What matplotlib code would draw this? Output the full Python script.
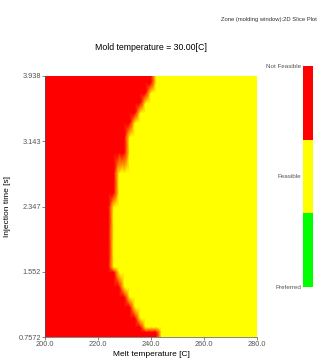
#!/usr/bin/env python3

import numpy as np
import matplotlib
matplotlib.use('Agg')
import matplotlib.pyplot as plt
from matplotlib.colors import LinearSegmentedColormap, ListedColormap

plt.rcParams['font.family'] = ['Liberation Sans', 'DejaVu Sans']

# injection time rows [s] and the melt temperature where the zone turns feasible [C]
inj_time = [3.938, 3.849, 3.727, 3.605, 3.483, 3.362, 3.191, 2.996, 2.752,
            2.508, 2.338, 2.021, 1.607, 1.545, 1.363, 1.241, 1.119, 0.985,
            0.875, 0.814, 0.7572]
boundary_temp = [241.5, 240.3, 238.4, 237.1, 235.8, 234.0, 232.0, 230.2, 227.7,
                 226.4, 225.2, 225.2, 225.2, 227.7, 229.5, 231.4, 234.0, 235.8,
                 237.7, 242.1, 244.0]
melt_temp = np.arange(200.0, 281.0, 2.0)

x_ticks = [200.0, 220.0, 240.0, 260.0, 280.0]
y_ticks = [0.7572, 1.552, 2.347, 3.143, 3.938]
y_tick_labels = ['0.7572', '1.552', '2.347', '3.143', '3.938']
zone_labels = ['Preferred', 'Feasible', 'Not Feasible']

RED = '#ff0000'
YELLOW = '#ffff00'
GREEN = '#00ff00'
GREY = '#555555'

t = np.array(inj_time)
b = np.array(boundary_temp)
X, Y = np.meshgrid(melt_temp, t)
Z = (X < b[:, None]).astype(float)  # 1 = not feasible, 0 = feasible

fig = plt.figure(figsize=(3.2, 3.6), dpi=100)
ax = fig.add_axes([45 / 320, 23 / 360, 212 / 320, 261 / 360])
cmap = LinearSegmentedColormap.from_list('zone', [YELLOW, RED])
ax.pcolormesh(X, Y, Z, cmap=cmap, shading='gouraud', vmin=0, vmax=1)
ax.set_xlim(200, 280)
ax.set_ylim(0.7572, 3.938)
ax.set_xticks(x_ticks)
ax.set_xticklabels([f'{v:.1f}' for v in x_ticks])
ax.set_yticks(y_ticks)
ax.set_yticklabels(y_tick_labels)
ax.tick_params(labelsize=5.3, colors=GREY, length=2, width=0.5, pad=1)
for s in ['top', 'right']:
    ax.spines[s].set_visible(False)
for s in ['left', 'bottom']:
    ax.spines[s].set_linewidth(0.5)
    ax.spines[s].set_color(GREY)
ax.set_xlabel('Melt temperature [C]', fontsize=6, labelpad=2)
ax.set_ylabel('Injection time [s]', fontsize=6, labelpad=5)

fig.text(151 / 320, 1 - 48 / 360, 'Mold temperature = 30.00[C]', fontsize=6.3,
         ha='center', va='center')
fig.text(317 / 320, 1 - 19 / 360, 'Zone (molding window):2D Slice Plot',
         fontsize=4.2, ha='right', va='center', color='#333333')

# zone legend bar
cax = fig.add_axes([303 / 320, 73 / 360, 10 / 320, 221 / 360])
cax.imshow(np.array([[0], [1], [2]]), cmap=ListedColormap([GREEN, YELLOW, RED]),
           aspect='auto', extent=[0, 1, 0, 3], origin='lower')
cax.set_xticks([])
cax.set_yticks([0, 1.5, 3])
cax.set_yticklabels(zone_labels)
cax.tick_params(length=0, labelsize=4.5, colors=GREY, pad=1)
for s in cax.spines.values():
    s.set_visible(False)

fig.savefig('out.png', dpi=100)
